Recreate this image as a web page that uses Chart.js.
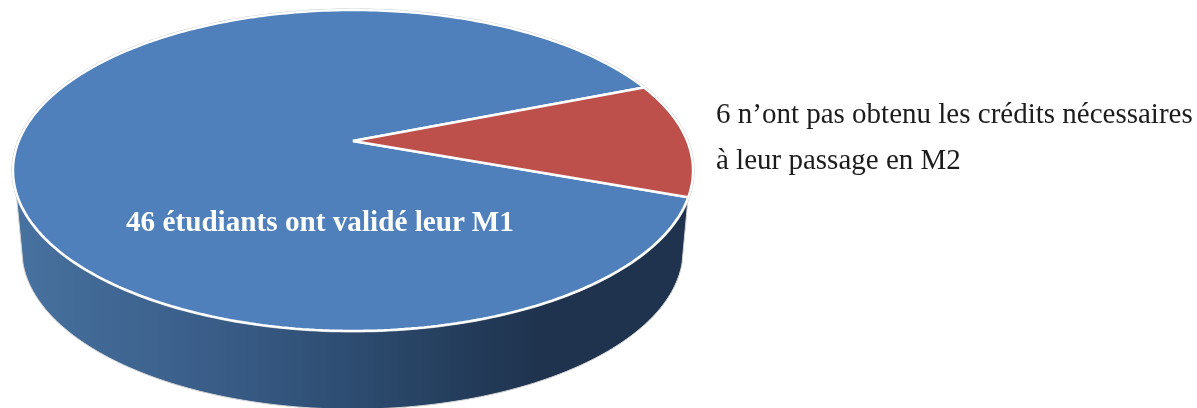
<!DOCTYPE html>
<html lang="fr">
<head>
<meta charset="utf-8">
<title>Validation du M1</title>
<script src="https://cdn.jsdelivr.net/npm/chart.js@4"></script>
<style>
  html, body { margin: 0; padding: 0; background: #fff; }
  #wrap { position: relative; width: 1197px; height: 408px; overflow: hidden; }
  #pie { position: absolute; left: 0; top: 0; }
  .label { position: absolute; font-family: "Liberation Serif", serif; white-space: nowrap; }
  #label0 { left: 126px; top: 204px; font-size: 29.2px; line-height: 34px; font-weight: bold; color: #fff; }
  #label1 { left: 716px; top: 90px; font-size: 29px; line-height: 46px; color: #1c1c1c; }
</style>
</head>
<body>
<div id="wrap">
  <canvas id="pie" width="1197" height="408"></canvas>
  <div class="label" id="label0"></div>
  <div class="label" id="label1"></div>
</div>
<script>
const categories = ["46 étudiants ont validé leur M1", "6 n’ont pas obtenu les crédits nécessaires"];
const studentCounts = [46, 6];
const sliceColors = ["#4f80bc", "#be504c"];
const secondLine = "à leur passage en M2";

document.getElementById("label0").textContent = categories[0];
document.getElementById("label1").innerHTML = categories[1] + "<br>" + secondLine;

// ================== perspective of the disc ======================
const view = { x: 353, y: 141, a: 334.2, b: 155, k: 0.1837 };
const rim = { x: 352.5, y: 221, a: 325, b: 153.6, k: 0.1837 };

function project(p, X, Y) {
  const w = 1 - p.k * Y;
  return [p.x + (p.a * X) / w, p.y + (p.b * Y) / w];
}

function rimPoint(p, deg) {
  const t = (deg * Math.PI) / 180;
  return project(p, Math.cos(t), Math.sin(t));
}

// the library draws its arcs through these, so they land on the tilted disc
function tiltContext(ctx, el) {
  const toView = (x, y) => project(view, (x - el.x) / el.outerRadius, (y - el.y) / el.outerRadius);
  const proto = CanvasRenderingContext2D.prototype;
  ctx.moveTo = (x, y) => proto.moveTo.apply(ctx, toView(x, y));
  ctx.lineTo = (x, y) => proto.lineTo.apply(ctx, toView(x, y));
  ctx.arc = (x, y, r, start, end, ccw) => {
    let sweep = end - start;
    if (!ccw && sweep < 0) sweep += Math.PI * 2;
    if (ccw && sweep > 0) sweep -= Math.PI * 2;
    const steps = Math.max(2, Math.ceil(Math.abs(sweep) * 60));
    for (let i = 0; i <= steps; i++) {
      const t = start + (sweep * i) / steps;
      proto.lineTo.apply(ctx, toView(x + r * Math.cos(t), y + r * Math.sin(t)));
    }
  };
}

function untiltContext(ctx) {
  delete ctx.moveTo;
  delete ctx.lineTo;
  delete ctx.arc;
}

function drawSide(ctx) {
  const grad = ctx.createLinearGradient(20, 0, 690, 0);
  grad.addColorStop(0, "#47719f");
  grad.addColorStop(0.33, "#375a84");
  grad.addColorStop(0.5, "#2d4c70");
  grad.addColorStop(0.68, "#233b59");
  grad.addColorStop(0.78, "#1f334e");
  grad.addColorStop(1, "#1f334e");

  ctx.beginPath();
  for (let deg = 20; deg <= 162; deg++) ctx.lineTo(...rimPoint(view, deg));
  for (let deg = 165; deg >= 15; deg--) ctx.lineTo(...rimPoint(rim, deg));
  ctx.closePath();
  ctx.fillStyle = grad;
  ctx.fill();

  ctx.beginPath();
  ctx.moveTo(...rimPoint(view, 162));
  for (let deg = 165; deg >= 15; deg--) ctx.lineTo(...rimPoint(rim, deg));
  ctx.lineTo(...rimPoint(view, 20));
  ctx.strokeStyle = "#d4d4d4";
  ctx.lineWidth = 1;
  ctx.stroke();
}

function drawHalo(ctx) {
  ctx.beginPath();
  for (let deg = 0; deg <= 360; deg += 1) ctx.lineTo(...rimPoint(view, deg));
  ctx.closePath();
  ctx.strokeStyle = "#c9c9c9";
  ctx.lineWidth = 3.2;
  ctx.stroke();
}

const tiltPlugin = {
  id: "tilt",
  beforeDatasetsDraw(chart) {
    const ctx = chart.ctx;
    drawSide(ctx);
    drawHalo(ctx);
    tiltContext(ctx, chart.getDatasetMeta(0).data[0]);
  },
  afterDatasetsDraw(chart) {
    untiltContext(chart.ctx);
  },
};

// ================== pie ======================
const pieChart = new Chart(document.getElementById("pie"), {
  type: "pie",
  data: {
    labels: categories,
    datasets: [
      {
        data: studentCounts,
        backgroundColor: sliceColors,
        borderColor: "#ffffff",
        borderWidth: 2.4,
      },
    ],
  },
  options: {
    responsive: false,
    animation: false,
    rotation: 109.9,
    events: [],
    plugins: {
      legend: { display: false },
      tooltip: { enabled: false },
    },
  },
  plugins: [tiltPlugin],
});
</script>
</body>
</html>
